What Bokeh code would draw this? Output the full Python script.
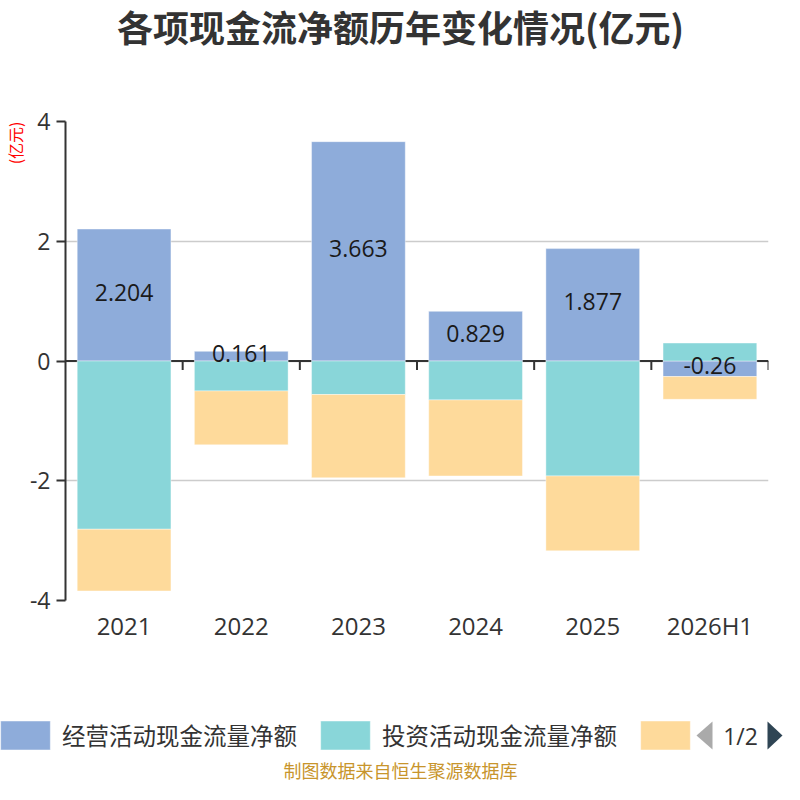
import numpy as np
from bokeh.plotting import figure
from bokeh.layouts import column
from bokeh.models import (FactorRange, Range1d, ColumnDataSource, Span, Label, Legend,
                          LegendItem, FixedTicker, PolyAnnotation, Title, PrintfTickFormatter)
from bokeh.transform import dodge
from bokeh.core.properties import value
from bokeh.embed import file_html
from bokeh.resources import INLINE

# ---------------- data ----------------
categories = ["2021", "2022", "2023", "2024", "2025", "2026H1"]
operating = [2.204, 0.161, 3.663, 0.829, 1.877, -0.26]
investing = [-2.81, -0.50, -0.56, -0.65, -1.92, 0.30]
financing = [-1.03, -0.90, -1.39, -1.27, -1.25, -0.38]
series_names = ["经营活动现金流量净额", "投资活动现金流量净额", "筹资活动现金流量净额"]
y_ticks = [-4, -2, 0, 2, 4]
title_text = "各项现金流净额历年变化情况(亿元)"
unit_text = "(亿元)"
source_text = "制图数据来自恒生聚源数据库"
page_text = "1/2"

# ---------------- style ----------------
colors = ["#8EACDA", "#89D6D9", "#FEDA9B"]
W = 784
TOP_H = 100
MAIN_T, MAIN_FRAME, MAIN_B = 21, 479, 61
MAIN_H = MAIN_T + MAIN_FRAME + MAIN_B
BOT_H = 784 - TOP_H - MAIN_H
CJK = "Noto Sans CJK SC"
LAT = "Open Sans"
DARK = "#333333"


def blank(height, y0):
    f = figure(width=W, height=height, x_range=Range1d(0, W),
               y_range=Range1d(y0 + height, y0), output_backend="svg",
               toolbar_location=None, x_axis_location=None, y_axis_location=None,
               min_border=0, frame_align=False)
    f.outline_line_color = None
    f.xgrid.visible = False
    f.ygrid.visible = False
    return f


# ---------------- stacking ----------------
n = len(categories)
pos = np.zeros(n)
neg = np.zeros(n)
stacks = []
for vals in [operating, investing, financing]:
    v = np.array(vals, dtype=float)
    bottom = np.where(v >= 0, pos, neg)
    top = bottom + v
    pos = np.where(v >= 0, top, pos)
    neg = np.where(v < 0, top, neg)
    stacks.append((bottom, top))

# ---------------- top (title) ----------------
pt = blank(TOP_H, 0)
pt.add_layout(Label(x=400, y=25, text=title_text, text_align="center",
                    text_baseline="middle", text_font=CJK, text_font_style="bold",
                    text_font_size="36px", text_color=DARK))

# ---------------- main chart ----------------
p = figure(width=W, height=MAIN_H, x_range=FactorRange(factors=categories),
           y_range=Range1d(-4, 4), output_backend="svg", toolbar_location=None,
           min_border_left=65, min_border_right=16, min_border_top=MAIN_T,
           min_border_bottom=MAIN_B, frame_align=False)
p.outline_line_color = None

p.yaxis.ticker = FixedTicker(ticks=y_ticks)
p.yaxis.formatter = PrintfTickFormatter(format="%d")
p.yaxis.axis_line_color = DARK
p.yaxis.axis_line_width = 2
p.yaxis.major_tick_line_color = DARK
p.yaxis.major_tick_line_width = 2
p.yaxis.major_tick_out = 9
p.yaxis.major_tick_in = 0
p.yaxis.minor_tick_line_color = None
p.yaxis.major_label_text_font_size = "23px"
p.yaxis.major_label_text_font = LAT
p.yaxis.major_label_text_color = DARK
p.yaxis.major_label_standoff = 6

p.xaxis.axis_line_color = None
p.xaxis.major_tick_line_color = None
p.xaxis.major_tick_out = 0
p.xaxis.major_tick_in = 0
p.xaxis.minor_tick_line_color = None
p.xaxis.major_label_text_font_size = "24px"
p.xaxis.major_label_text_font = LAT
p.xaxis.major_label_text_color = DARK
p.xaxis.major_label_standoff = 8

p.xgrid.grid_line_color = None
p.ygrid.ticker = FixedTicker(ticks=y_ticks)
p.ygrid.grid_line_color = "#cccccc"
p.ygrid.grid_line_width = 1.5

p.add_layout(Title(text=unit_text, align="right", text_font=CJK, text_font_size="16px",
                   text_color="red", standoff=0, text_font_style="normal"), "left")

zero = Span(location=0, dimension="width", line_color=DARK, line_width=2, level="underlay")
p.add_layout(zero)
tick_src = ColumnDataSource(dict(x=categories, y=[0] * n))
p.ray(x=dodge("x", 0.5, range=p.x_range), y="y", length=9, length_units="screen",
      angle=-np.pi / 2, source=tick_src, line_color=DARK, line_width=2)

for i, (b, t) in enumerate(stacks):
    src = ColumnDataSource(dict(x=categories, bottom=b, top=t))
    p.vbar(x="x", bottom="bottom", top="top", width=0.8, source=src,
           fill_color=colors[i], line_color="white", line_alpha=0.4, line_width=1)

b0, t0 = stacks[0]
lab_src = ColumnDataSource(dict(x=categories, y=(b0 + t0) / 2,
                                text=[f"{v:g}" for v in operating]))
p.text(x="x", y="y", text="text", source=lab_src, text_align="center",
       text_baseline="middle", text_font_size="23px", text_color="#1a1a1a",
       text_font=value(LAT), y_offset=-3)

# ---------------- bottom (legend + source) ----------------
y_bot0 = TOP_H + MAIN_H
pb = blank(BOT_H, y_bot0)
dummy = []
for c in colors:
    dummy.append(pb.vbar(x="x", top="top", width=1,
                         source=ColumnDataSource(dict(x=[np.nan], top=[np.nan])),
                         fill_color=c, line_color="white", line_alpha=0.4))
legend = Legend(items=[LegendItem(label=series_names[0], renderers=[dummy[0]]),
                       LegendItem(label=series_names[1], renderers=[dummy[1]]),
                       LegendItem(label=" ", renderers=[dummy[2]])],
                orientation="horizontal", location=(-6, 31.4),
                glyph_width=62, glyph_height=36, label_standoff=6, spacing=17,
                padding=0, margin=0, border_line_color=None,
                background_fill_alpha=0, label_text_font_size="23.5px",
                label_text_font=CJK, label_text_color=DARK, label_height=36)
pb.add_layout(legend)

pb.add_layout(PolyAnnotation(xs=[712, 712, 696], ys=[721, 749, 735], fill_color="#aaaaaa",
                             fill_alpha=1, line_color=None))
pb.add_layout(PolyAnnotation(xs=[767, 767, 782], ys=[721, 749, 735], fill_color="#2f4554",
                             fill_alpha=1, line_color=None))
pb.add_layout(Label(x=740, y=735, text=page_text, text_align="center",
                    text_baseline="middle", text_font=LAT, text_font_size="23px",
                    text_color=DARK))
pb.add_layout(Label(x=400, y=769, text=source_text, text_align="center",
                    text_baseline="middle", text_font=CJK, text_font_size="18px",
                    text_color="#C8952C"))

layout = column(pt, p, pb, spacing=0)
open("out.html", "w").write(file_html(layout, INLINE))
